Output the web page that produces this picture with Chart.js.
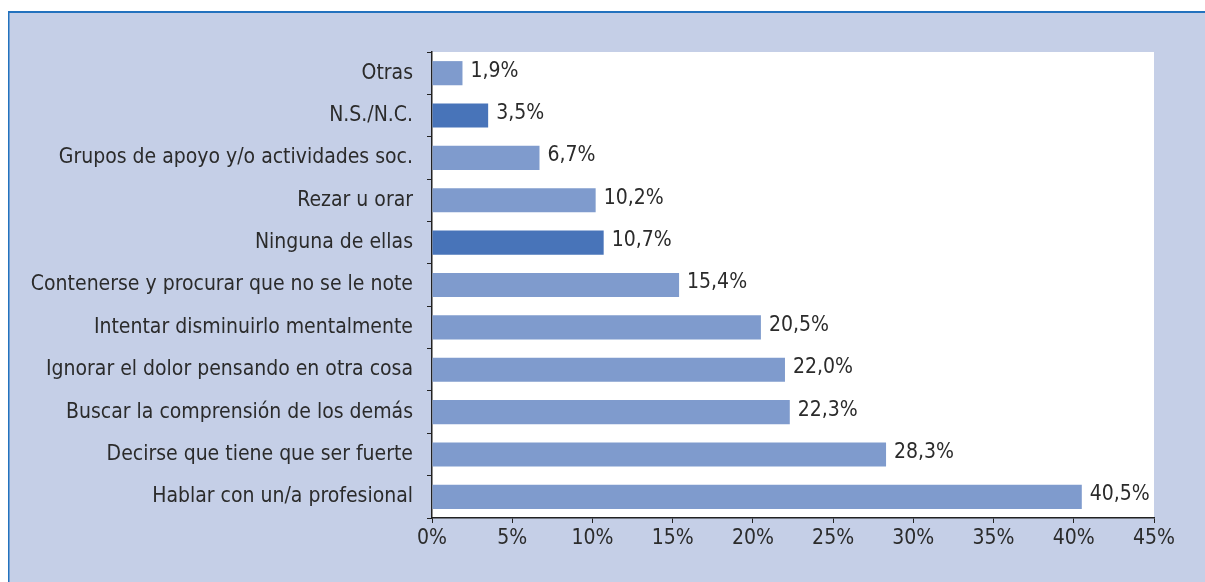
<!DOCTYPE html>
<html>
<head>
<meta charset="utf-8">
<script src="https://cdn.jsdelivr.net/npm/chart.js@4.4.1/dist/chart.umd.min.js"></script>
<style>
  html, body { margin: 0; padding: 0; background: #fff; }
  #wrap { position: relative; width: 1205px; height: 582px; }
</style>
</head>
<body>
<div id="wrap"><canvas id="grafico"></canvas></div>
<script>
'use strict';
const categorias = [
    'Otras',
    'N.S./N.C.',
    'Grupos de apoyo y/o actividades soc.',
    'Rezar u orar',
    'Ninguna de ellas',
    'Contenerse y procurar que no se le note',
    'Intentar disminuirlo mentalmente',
    'Ignorar el dolor pensando en otra cosa',
    'Buscar la comprensión de los demás',
    'Decirse que tiene que ser fuerte',
    'Hablar con un/a profesional',
];
const porcentajes = [1.9, 3.5, 6.7, 10.2, 10.7, 15.4, 20.5, 22.0, 22.3, 28.3, 40.5];
const resaltadas = ['N.S./N.C.', 'Ninguna de ellas'];

const fuente = "'Liberation Sans Narrow', 'DejaVu Sans Condensed', 'Arial Narrow', sans-serif";
const colorTexto = '#2b2b2b';

const fondo = {
    id: 'fondo',
    beforeDraw(chart) {
        const c = chart.ctx;
        c.save();
        c.fillStyle = '#ffffff';
        c.fillRect(0, 0, chart.width, chart.height);
        c.fillStyle = '#c5cfe7';
        c.fillRect(8, 11, chart.width - 8, chart.height - 11);
        c.fillStyle = '#2372be';
        c.fillRect(8, 11, chart.width - 8, 2);
        c.fillRect(8, 11, 1.5, chart.height - 11);
        const a = chart.chartArea;
        c.fillStyle = '#ffffff';
        c.fillRect(a.left, a.top, a.right - a.left, a.bottom - a.top);
        c.restore();
    }
};

const etiquetas = {
    id: 'etiquetas',
    afterDatasetsDraw(chart) {
        const c = chart.ctx;
        const meta = chart.getDatasetMeta(0);
        c.save();
        c.font = '21px ' + fuente;
        c.fillStyle = colorTexto;
        c.textAlign = 'left';
        c.textBaseline = 'middle';
        meta.data.forEach((bar, i) => {
            const txt = porcentajes[i].toFixed(1).replace('.', ',') + '%';
            c.fillText(txt, bar.x + 8, bar.y - 2);
        });
        c.restore();
    }
};

const ctx2d = document.getElementById('grafico').getContext('2d');
new Chart(ctx2d, {
    type: 'bar',
    data: {
        labels: categorias,
        datasets: [{
            data: porcentajes,
            backgroundColor: categorias.map(c => resaltadas.includes(c) ? '#4874b9' : '#7f9bcd'),
            borderWidth: 0,
            categoryPercentage: 1,
            barPercentage: 0.57,
        }],
    },
    options: {
        indexAxis: 'y',
        responsive: true,
        maintainAspectRatio: false,
        animation: false,
        layout: {
            padding: { left: 0, top: 52, right: 51, bottom: 0 },
        },
        scales: {
            x: {
                min: 0,
                max: 45,
                afterFit: (scale) => { scale.height = 64; },
                ticks: {
                    stepSize: 5,
                    color: colorTexto,
                    font: { family: fuente, size: 21 },
                    padding: 3,
                    maxRotation: 0,
                    callback: (v) => v + '%',
                },
                grid: { drawOnChartArea: false, tickLength: 5, color: '#222' },
                border: { color: '#222', width: 1.5 },
            },
            y: {
                afterFit: (scale) => { scale.width = 432; },
                ticks: {
                    color: colorTexto,
                    font: { family: fuente, size: 21 },
                    padding: 14,
                },
                grid: { drawOnChartArea: false, tickLength: 5, color: '#222', offset: true },
                border: { color: '#222', width: 1.5 },
            },
        },
        plugins: {
            legend: { display: false },
            tooltip: { enabled: false },
        },
    },
    plugins: [fondo, etiquetas],
});
</script>
</body>
</html>
